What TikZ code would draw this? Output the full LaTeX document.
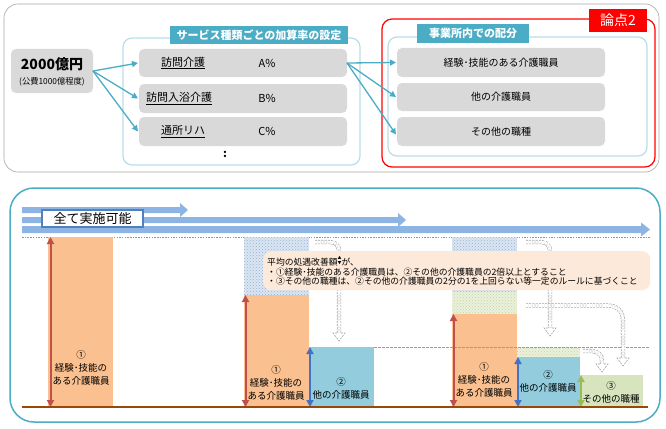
\documentclass[tikz,border=0pt]{standalone}
\usepackage{fontspec}
\usepackage{graphicx}
\setmainfont{Noto Sans CJK JP}
\usetikzlibrary{arrows.meta,patterns}
\definecolor{boxgray}{HTML}{D9D9D9}
\definecolor{teal1}{HTML}{4BACC6}
\definecolor{frameblue}{HTML}{B7DEE8}
\definecolor{panelgray}{HTML}{A6A6A6}
\definecolor{widearr}{HTML}{8DB4E2}
\definecolor{lblborder}{HTML}{4F81BD}
\definecolor{dotbrown}{HTML}{C8875A}
\definecolor{basebrown}{HTML}{984807}
\definecolor{orange1}{HTML}{FAC090}
\definecolor{blue1}{HTML}{93CDDD}
\definecolor{green1}{HTML}{D7E4BD}
\definecolor{arrred}{HTML}{C0504D}
\definecolor{arrblue}{HTML}{4472C4}
\definecolor{arrgreen}{HTML}{9BBB59}
\definecolor{tboxfill}{HTML}{FDE9D9}
\definecolor{hbfill}{HTML}{DCE6F2}
\definecolor{hbdot}{HTML}{95B3D7}
\definecolor{hgfill}{HTML}{EBF1DE}
\definecolor{hgdot}{HTML}{C3D69B}
\definecolor{dashblue}{HTML}{7F9FD8}
\definecolor{dgray}{HTML}{A0A0A0}
\newcommand\mkhead[2]{%
  \fill[white] (#1-6,#2-8) -- (#1,#2) -- (#1+6,#2-8) -- cycle;
  \draw[dgray, line width=0.6pt, dash pattern=on 2pt off 1.2pt] (#1-2.2,#2-8) -- (#1-6,#2-8) -- (#1,#2) -- (#1+6,#2-8) -- (#1+2.2,#2-8);}
\newcommand\updn{\raisebox{0.1em}{\fontsize{4}{3.2}\selectfont\shortstack{▲\\▼}}}
\begin{document}
\begin{tikzpicture}[x=1pt,y=-1pt,
  graybox/.style={fill=boxgray, rounded corners=5pt, inner sep=0pt, outer sep=0pt},
  lframe/.style={draw=frameblue, line width=1.2pt, rounded corners=9pt},
  headbox/.style={fill=teal1, text=white, font=\bfseries\fontsize{11}{11}\selectfont, inner sep=0pt},
  tarrow/.style={draw=teal1, line width=1.3pt, -{Triangle[length=6pt,width=6pt]}},
  rowtext/.style={font=\fontsize{11}{11}\selectfont, inner sep=0pt},
  colrect/.style={inner sep=0pt, outer sep=0pt, anchor=north west, draw=none},
  hatchb/.style={colrect, preaction={fill=hbfill}, pattern=crosshatch dots, pattern color=hbdot},
  hatchg/.style={colrect, preaction={fill=hgfill}, pattern=crosshatch dots, pattern color=hgdot},
  coltext/.style={font=\fontsize{9.5}{13}\selectfont, align=center, inner sep=0pt},
  darrow/.style={line width=2pt, {Triangle[length=7pt,width=7pt]}-{Triangle[length=7pt,width=7pt]}},
  hollow/.style={draw=dgray, line width=0.6pt, dash pattern=on 2pt off 1.2pt, double=white, double distance=3pt}
]
\useasboundingbox (0,0) rectangle (666,428);
% ---------- top panel ----------
\draw[panelgray, line width=0.6pt, rounded corners=14pt] (4,4) rectangle (659,172);
\node[graybox, minimum width=82pt, minimum height=44pt] (n2000) at (52,71) {};
\node[font=\bfseries\fontsize{14}{14}\selectfont, inner sep=0pt] (t2000) at (52,64) {2000億円};
\node[font=\fontsize{8.3}{8.3}\selectfont, inner sep=0pt] (tkohi) at (52,82) {(公費1000億程度)};
% middle frame
\draw[lframe] (123,38) rectangle (360,165);
\node[headbox, minimum width=178pt, minimum height=18pt] (mhead) at (259,35) {サービス種類ごとの加算率の設定};
\node[graybox, minimum width=208pt, minimum height=28pt] (r1) at (243,63) {};
\node[graybox, minimum width=208pt, minimum height=29pt] (r2) at (243,98.5) {};
\node[graybox, minimum width=208pt, minimum height=29pt] (r3) at (243,131.5) {};
\node[rowtext] (r1a) at (183,63) {\underline{訪問介護}};
\node[rowtext] (r1b) at (267,63) {A\%};
\node[rowtext] (r2a) at (179,98.5) {\underline{訪問入浴介護}};
\node[rowtext] (r2b) at (267,98.5) {B\%};
\node[rowtext] (r3a) at (183,131.5) {\underline{通所リハ}};
\node[rowtext] (r3b) at (267,131.5) {C\%};
\node[font=\bfseries\fontsize{11}{11}\selectfont, inner sep=0pt] (colon) at (225,154) {:};
% right frame
\draw[red, line width=1.2pt, rounded corners=10pt] (382,19) rectangle (655,167);
\node[fill=red, text=white, font=\fontsize{14}{14}\selectfont, minimum width=58pt, minimum height=23pt, inner sep=0pt] (ronten) at (618,20.5) {論点2};
\draw[lframe] (388,37) rectangle (647,156);
\node[headbox, minimum width=112pt, minimum height=19pt] (rhead) at (473,33.5) {事業所内での配分};
\node[graybox, minimum width=208pt, minimum height=29pt] (q1) at (501,62.5) {};
\node[graybox, minimum width=208pt, minimum height=28pt] (q2) at (501,97) {};
\node[graybox, minimum width=208pt, minimum height=29pt] (q3) at (501,131.5) {};
\node[font=\fontsize{10}{10}\selectfont, inner sep=0pt] (q1t) at (q1) {経験･技能のある介護職員};
\node[font=\fontsize{10}{10}\selectfont, inner sep=0pt] (q2t) at (q2) {他の介護職員};
\node[font=\fontsize{10}{10}\selectfont, inner sep=0pt] (q3t) at (q3) {その他の職種};
% arrows top
\draw[tarrow] (n2000.east) -- ([xshift=-1pt]r1.west);
\draw[tarrow] (n2000.east) -- ([xshift=-1pt]r2.west);
\draw[tarrow] (n2000.east) -- ([xshift=-1pt]r3.west);
\draw[tarrow] (r1.east) -- ([xshift=-1pt]q1.west);
\draw[tarrow] (r1.east) -- ([xshift=-1pt]q2.west);
\draw[tarrow] (r1.east) -- ([xshift=-1pt,yshift=-3pt]q3.west);
% ---------- bottom panel ----------
\draw[teal1, line width=1.5pt, rounded corners=24pt] (10,188) rectangle (660,422);
\fill[widearr] (22,207) -- (180,207) -- (180,203) -- (188,210) -- (180,217) -- (180,213) -- (22,213) -- cycle;
\fill[widearr] (22,217) -- (398,217) -- (398,213) -- (406,220) -- (398,227) -- (398,223) -- (22,223) -- cycle;
\fill[widearr] (22,226) -- (641,226) -- (641,222.5) -- (650,229.5) -- (641,236.5) -- (641,233) -- (22,233) -- cycle;
\node[draw=lblborder, fill=white, line width=1.2pt, minimum width=101pt, minimum height=17pt, inner sep=0pt, font=\fontsize{13}{13}\selectfont] (zenbu) at (92.5,218.5) {全て実施可能};
\draw[dotbrown, line width=0.8pt, dash pattern=on 1.5pt off 1.2pt] (22,237) -- (650,237);
% column 1
\node[colrect, fill=orange1, minimum width=65pt, minimum height=170pt] (c1) at (48,237) {};
% column 2
\node[hatchb, minimum width=65pt, minimum height=58pt] (c2h) at (244,237) {};
\node[colrect, fill=orange1, minimum width=65pt, minimum height=112pt] (c2o) at (244,295) {};
\node[colrect, fill=blue1, minimum width=65pt, minimum height=60pt] (c2b) at (309,347) {};
% column 3
\node[hatchb, minimum width=65pt, minimum height=55pt] (c3h) at (452,237) {};
\node[hatchg, minimum width=65pt, minimum height=22pt] (c3g) at (452,292) {};
\node[colrect, fill=orange1, minimum width=65pt, minimum height=93pt] (c3o) at (452,314) {};
\node[hatchg, minimum width=63pt, minimum height=10pt] (c3bg) at (517,347) {};
\node[colrect, fill=blue1, minimum width=63pt, minimum height=50pt] (c3b) at (517,357) {};
\node[colrect, fill=green1, minimum width=63pt, minimum height=32pt] (c3gr) at (580,375) {};
% blue dashed level
\draw[dashblue, line width=0.8pt, dash pattern=on 2.5pt off 1.5pt] (c2b.north east) -- (650,347);
% hollow dashed arrows
\draw[hollow] (315,242) -- (329,242) .. controls (336,242) and (339,245) .. (339,252) -- (339,333);
\mkhead{339}{341}
\draw[hollow] (526,242) -- (540,242) .. controls (547,242) and (550,245) .. (550,252) -- (550,328);
\mkhead{550}{336}
\draw[hollow] (526,305.5) -- (607,305.5) .. controls (617,305.5) and (623,311) .. (623,321) -- (623,358);
\mkhead{623}{366}
\draw[hollow] (583,351) -- (591,351) .. controls (598,351) and (602,355) .. (602,361) -- (602,364);
\mkhead{602}{372}
% text box
\node[fill=tboxfill, rounded corners=8pt, minimum width=387pt, minimum height=39pt, inner sep=0pt, anchor=north west] (tbox) at (263,251) {};
\node[anchor=north west, align=left, inner sep=0pt, font=\fontsize{8.8}{9.2}\selectfont] (tboxt) at (267,255.5) {平均の処遇改善額\updn が、\\・①経験･技能のある介護職員は、②その他の介護職員の2倍以上とすること\\・③その他の職種は、②その他の介護職員の2分の1を上回らない等一定のルールに基づくこと};
% column texts
\node[coltext] (c1t) at (81,367.5) {①\\経験･技能の\\ある介護職員};
\node[coltext] (c2ot) at (276,383) {①\\経験･技能の\\ある介護職員};
\node[coltext] (c2bt) at (341,388) {②\\他の介護職員};
\node[coltext] (c3ot) at (484,380) {①\\経験･技能の\\ある介護職員};
\node[coltext] (c3bt) at (548,381.5) {②\\他の介護職員};
\node[coltext] (c3gt) at (611,392.5) {③\\その他の職種};
% double arrows
\draw[darrow, arrred] ([xshift=2.5pt]c1.north west) -- ([xshift=2.5pt]c1.south west);
\draw[darrow, arrred] ([xshift=1.5pt]c2o.north west) -- ([xshift=1.5pt]c2o.south west);
\draw[darrow, arrblue] ([xshift=1pt]c2b.north west) -- ([xshift=1pt]c2b.south west);
\draw[darrow, arrred] ([xshift=1.5pt]c3o.north west) -- ([xshift=1.5pt]c3o.south west);
\draw[darrow, arrblue] ([xshift=1pt]c3b.north west) -- ([xshift=1pt]c3b.south west);
\draw[darrow, arrgreen] ([xshift=1pt]c3gr.north west) -- ([xshift=1pt]c3gr.south west);
% baseline
\draw[basebrown, line width=2pt] (22,407) -- (648,407);
\end{tikzpicture}
\end{document}
